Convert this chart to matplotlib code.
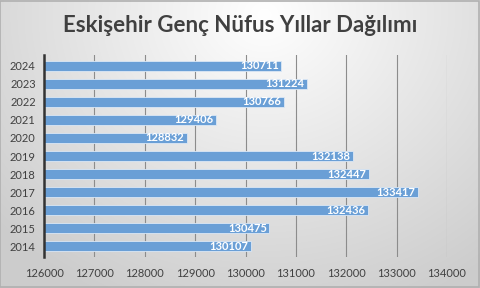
import numpy as np
import matplotlib
matplotlib.use("Agg")
import matplotlib.pyplot as plt

years = ["2014", "2015", "2016", "2017", "2018", "2019", "2020", "2021", "2022", "2023", "2024"]
values = [130107, 130475, 132436, 133417, 132447, 132138, 128832, 129406, 130766, 131224, 130711]
xticks = [126000, 127000, 128000, 129000, 130000, 131000, 132000, 133000, 134000]
title = "Eskişehir Genç Nüfus Yıllar Dağılımı"

plt.rcParams['font.family'] = ['Lato', 'DejaVu Sans']

fig = plt.figure(figsize=(4.8, 2.88), dpi=100)

# background gradient
bg = fig.add_axes([0, 0, 1, 1], zorder=-10)
h, w = 288, 480
yy, xx = np.mgrid[0:h, 0:w]
cx, cy = 0.55 * w, 0.05 * h
d = np.sqrt(((xx - cx) / (w * 0.75)) ** 2 + ((yy - cy) / (h * 1.1)) ** 2)
d = np.clip(d, 0, 1)
g = 1.0 - 0.2 * d
img = np.dstack([g, g, g])
bg.imshow(img, aspect='auto', extent=[0, 1, 0, 1], origin='upper')
bg.set_xlim(0, 1); bg.set_ylim(0, 1)
bg.axis('off')
bg.add_patch(plt.Rectangle((0.001, 0.002), 0.997, 0.995, fill=False, edgecolor='#b0b0b0', lw=1.2))

ax = fig.add_axes([44/480, 1 - 257/288, (447-44)/480, (257-55)/288])
ax.patch.set_alpha(0)
y = np.arange(len(years))
bars = ax.barh(y, values, height=0.58, color='#6a9fd6', edgecolor='#dce8f5', linewidth=0.6, zorder=3)
ax.set_xlim(126000, 134000)
ax.set_ylim(-0.6, len(years) - 0.4)
ax.set_xticks(xticks)
ax.set_xticklabels([str(t) for t in xticks])
ax.set_yticks(y)
ax.set_yticklabels(years)
ax.tick_params(axis='both', length=0, labelsize=8, colors='#404040')
ax.tick_params(axis='x', pad=8)
ax.tick_params(axis='y', pad=6)
ax.grid(axis='x', color='#8c8c8c', lw=0.8, zorder=0)
for s in ['top', 'right', 'bottom']:
    ax.spines[s].set_visible(False)
ax.spines['left'].set_color('#333333')
ax.spines['left'].set_linewidth(1.8)
ax.spines['left'].set_zorder(5)

for yi, v in zip(y, values):
    ax.text(v - 50, yi, str(v), ha='right', va='center', color='white', fontsize=8,
            fontweight='bold', zorder=4)

fig.text(0.5, 1 - 25/288, title, ha='center', va='center', fontsize=16, fontweight='bold', color='#404040')

fig.savefig('out.png', dpi=100)
